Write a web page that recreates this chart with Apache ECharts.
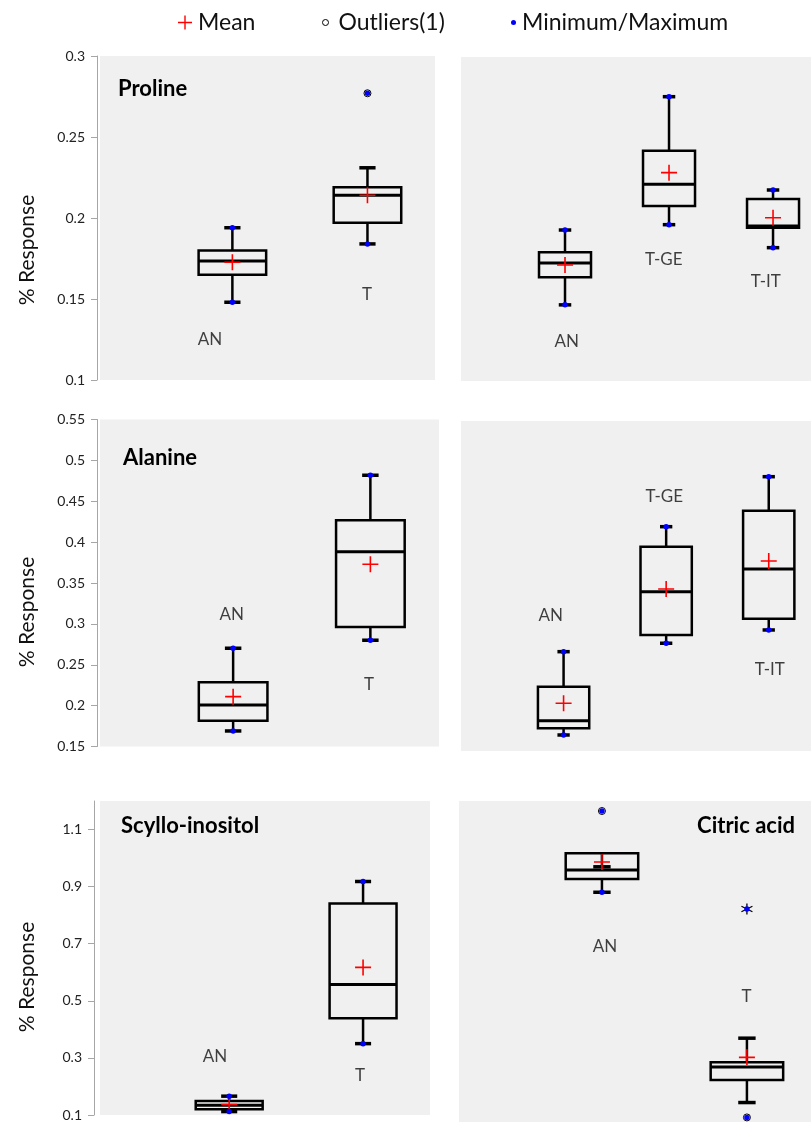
<!DOCTYPE html>
<html><head><meta charset="utf-8">
<script src="https://cdn.jsdelivr.net/npm/echarts@6/dist/echarts.min.js"></script>
<style>html,body{margin:0;padding:0;background:#fff}#c{width:811px;height:1122px}</style>
</head><body><div id="c"></div>
<script>
// ---------------- DATA ----------------
// Box statistics: lower whisker, Q1, median, Q3, upper whisker
const prolineGroups = ['AN', 'T'];
const prolineLow    = [0.148, 0.184];
const prolineQ1     = [0.165, 0.197];
const prolineMedian = [0.1735, 0.214];
const prolineQ3     = [0.180, 0.219];
const prolineHigh   = [0.194, 0.231];
const prolineMean   = [0.1727, 0.214];
const prolineMin    = [0.148, 0.184];
const prolineMax    = [0.194, 0.277];
const prolineOutliers = [[1, 0.277]];      // [group index, value]
const prolineExtremes = [];

const prolineSubGroups = ['AN', 'T-GE', 'T-IT'];
const prolineSubLow    = [0.147, 0.1965, 0.1823];
const prolineSubQ1     = [0.164, 0.208, 0.1946];
const prolineSubMedian = [0.1729, 0.2214, 0.1957];
const prolineSubQ3     = [0.1795, 0.2422, 0.2124];
const prolineSubHigh   = [0.1932, 0.2755, 0.2179];
const prolineSubMean   = [0.1716, 0.2286, 0.2008];
const prolineSubMin    = [0.147, 0.1965, 0.1823];
const prolineSubMax    = [0.1932, 0.2755, 0.2179];
const prolineSubOutliers = [];
const prolineSubExtremes = [];

const alanineGroups = ['AN', 'T'];
const alanineLow    = [0.169, 0.280];
const alanineQ1     = [0.1816, 0.2962];
const alanineMedian = [0.2008, 0.3883];
const alanineQ3     = [0.2286, 0.4267];
const alanineHigh   = [0.2702, 0.4818];
const alanineMean   = [0.211, 0.3729];
const alanineMin    = [0.169, 0.280];
const alanineMax    = [0.2702, 0.4818];
const alanineOutliers = [];
const alanineExtremes = [];

const alanineSubGroups = ['AN', 'T-GE', 'T-IT'];
const alanineSubLow    = [0.1694, 0.2806, 0.2967];
const alanineSubQ1     = [0.1775, 0.2906, 0.3104];
const alanineSubMedian = [0.1868, 0.3431, 0.3706];
const alanineSubQ3     = [0.228, 0.3977, 0.4413];
const alanineSubHigh   = [0.2704, 0.4219, 0.4825];
const alanineSubMean   = [0.2078, 0.3464, 0.3803];
const alanineSubMin    = [0.1694, 0.2806, 0.2967];
const alanineSubMax    = [0.2704, 0.4219, 0.4825];
const alanineSubOutliers = [];
const alanineSubExtremes = [];

const scylloGroups = ['AN', 'T'];
const scylloLow    = [0.112, 0.350];
const scylloQ1     = [0.120, 0.439];
const scylloMedian = [0.134, 0.557];
const scylloQ3     = [0.149, 0.841];
const scylloHigh   = [0.166, 0.918];
const scylloMean   = [0.137, 0.617];
const scylloMin    = [0.112, 0.350];
const scylloMax    = [0.166, 0.918];
const scylloOutliers = [];
const scylloExtremes = [];

const citricGroups = ['AN', 'T'];
const citricLow    = [0.881, 0.146];
const citricQ1     = [0.927, 0.225];
const citricMedian = [0.959, 0.270];
const citricQ3     = [1.017, 0.287];
const citricHigh   = [0.970, 0.371];
const citricMean   = [0.987, 0.304];
const citricMin    = [0.881, 0.094];
const citricMax    = [1.165, 0.8225];
const citricOutliers = [[0, 1.165], [1, 0.094]];
const citricExtremes = [[1, 0.8225]];

// tick labels
const yTicksProline = [0.1, 0.15, 0.2, 0.25, 0.3];
const yTicksAlanine = [0.15, 0.2, 0.25, 0.3, 0.35, 0.4, 0.45, 0.5, 0.55];
const yTicksScyllo  = [0.1, 0.3, 0.5, 0.7, 0.9, 1.1];

const panelTitles = ['Proline', '', 'Alanine', '', 'Scyllo-inositol', 'Citric acid'];
const yAxisTitle = '% Response';
const legendNames = ['Mean', 'Outliers(1)', 'Minimum/Maximum'];

// ---------------- ASSEMBLY ----------------
const panels = [
  {groups: prolineGroups, low: prolineLow, q1: prolineQ1, med: prolineMedian, q3: prolineQ3, high: prolineHigh, mean: prolineMean, min: prolineMin, max: prolineMax, out: prolineOutliers, ext: prolineExtremes, ticks: yTicksProline},
  {groups: prolineSubGroups, low: prolineSubLow, q1: prolineSubQ1, med: prolineSubMedian, q3: prolineSubQ3, high: prolineSubHigh, mean: prolineSubMean, min: prolineSubMin, max: prolineSubMax, out: prolineSubOutliers, ext: prolineSubExtremes, ticks: null},
  {groups: alanineGroups, low: alanineLow, q1: alanineQ1, med: alanineMedian, q3: alanineQ3, high: alanineHigh, mean: alanineMean, min: alanineMin, max: alanineMax, out: alanineOutliers, ext: alanineExtremes, ticks: yTicksAlanine},
  {groups: alanineSubGroups, low: alanineSubLow, q1: alanineSubQ1, med: alanineSubMedian, q3: alanineSubQ3, high: alanineSubHigh, mean: alanineSubMean, min: alanineSubMin, max: alanineSubMax, out: alanineSubOutliers, ext: alanineSubExtremes, ticks: null},
  {groups: scylloGroups, low: scylloLow, q1: scylloQ1, med: scylloMedian, q3: scylloQ3, high: scylloHigh, mean: scylloMean, min: scylloMin, max: scylloMax, out: scylloOutliers, ext: scylloExtremes, ticks: yTicksScyllo},
  {groups: citricGroups, low: citricLow, q1: citricQ1, med: citricMedian, q3: citricQ3, high: citricHigh, mean: citricMean, min: citricMin, max: citricMax, out: citricOutliers, ext: citricExtremes, ticks: null}
];

// layout (pixels / axis ranges / label anchors in data units)
const layout = [
  {left: 100, top: 56,    width: 335,   height: 324,   xMin: 0.02,  xMax: 2.5,   yMin: 0.1,   yMax: 0.3,  axisOffset: 3,
   labelAt: [[0.834, 0.125], [1.996, 0.1525]]},
  {left: 461, top: 57,    width: 350,   height: 324,   xMin: 0,     xMax: 3.365, yMin: 0.1,   yMax: 0.3,  axisOffset: 0,
   labelAt: [[1.016, 0.1243], [1.95, 0.1747], [2.93, 0.1614]]},
  {left: 100, top: 419.5, width: 339,   height: 327,   xMin: 0.03,  xMax: 2.5,   yMin: 0.15,  yMax: 0.55, axisOffset: 3,
   labelAt: [[0.99, 0.311], [1.99, 0.2253]]},
  {left: 461, top: 421,   width: 350,   height: 330,   xMin: 0,     xMax: 3.412, yMin: 0.15,  yMax: 0.55, axisOffset: 0,
   labelAt: [[0.875, 0.3137], [1.982, 0.459], [3.01, 0.2482]]},
  {left: 100, top: 801,   width: 330,   height: 314.7, xMin: 0.035, xMax: 2.5,   yMin: 0.1,   yMax: 1.2,  axisOffset: 6,
   labelAt: [[0.894, 0.306], [1.977, 0.239]]},
  {left: 459, top: 801,   width: 352,   height: 321,   xMin: 0.014, xMax: 2.442, yMin: 0.078, yMax: 1.2,  axisOffset: 0,
   labelAt: [[1.021, 0.691], [1.998, 0.518]]}
];
const titlePos = [{left: 118, top: 78}, null, {left: 123, top: 447}, null, {left: 121, top: 815}, {right: 16, top: 815}];
const yTitlePos = [[27, 250], [27, 612], [27, 977]];

const FONT = 'Lato, "Open Sans", sans-serif';
const PLUS = 'path://M9,0H11V9H20V11H11V20H9V11H0V9H9Z';
const STAR = 'path://M0,-6L0,6M-5.2,-3L5.2,3M-5.2,3L5.2,-3';

function renderBox(params, api) {
  const x = api.value(0);
  const c = v => api.coord([x, v]);
  const lo = c(api.value(1)), q1 = c(api.value(2)), md = c(api.value(3)), q3 = c(api.value(4)), hi = c(api.value(5));
  const bw = api.size([0.5, 0])[0], cw = api.size([0.12, 0])[0];
  const cx = lo[0];
  const ln = (x1, y1, x2, y2, w) => ({type: 'line', shape: {x1, y1, x2, y2}, style: {stroke: '#000', lineWidth: w}});
  return {type: 'group', children: [
    ln(cx, q1[1], cx, lo[1], 2.5),
    ln(cx, q3[1], cx, hi[1], 2.5),
    ln(cx - cw / 2, lo[1], cx + cw / 2, lo[1], 3.5),
    ln(cx - cw / 2, hi[1], cx + cw / 2, hi[1], 3.5),
    {type: 'rect', shape: {x: cx - bw / 2, y: q3[1], width: bw, height: q1[1] - q3[1]}, style: {fill: 'transparent', stroke: '#000', lineWidth: 2.5}},
    ln(cx - bw / 2, md[1], cx + bw / 2, md[1], 3)
  ]};
}

const legendText = {fontSize: 23, fontFamily: FONT, color: '#111'};
const option = {
  animation: false,
  backgroundColor: '#fff',
  grid: [], xAxis: [], yAxis: [], series: [], title: [],
  legend: [
    {data: [{name: legendNames[0], icon: PLUS, itemStyle: {color: '#ff0000'}}], left: 178, top: 11, padding: 0, itemWidth: 14, itemHeight: 14,
     selectedMode: false, textStyle: Object.assign({padding: [0, 0, 0, 1]}, legendText)},
    {data: [{name: legendNames[1], icon: 'circle', itemStyle: {color: '#fff', borderColor: '#000', borderWidth: 1}}], left: 322, top: 11, padding: 0, itemWidth: 6, itemHeight: 6,
     selectedMode: false, textStyle: Object.assign({padding: [0, 0, 0, 5]}, legendText)},
    {data: [{name: legendNames[2], icon: 'circle', itemStyle: {color: '#0000ff'}}], left: 511, top: 11, padding: 0, itemWidth: 5, itemHeight: 5,
     selectedMode: false, textStyle: Object.assign({padding: [0, 0, 0, 1]}, legendText)}
  ],
  graphic: yTitlePos.map(([x, y]) => ({
    type: 'text', x, y, rotation: Math.PI / 2,
    style: {text: yAxisTitle, fontSize: 21, fontFamily: FONT, fill: '#111', align: 'center', verticalAlign: 'middle'}
  }))
};

panels.forEach((p, i) => {
  const L = layout[i];
  option.grid.push({left: L.left, top: L.top, width: L.width, height: L.height, show: true, backgroundColor: '#f0f0f0', borderWidth: 0});
  option.xAxis.push({type: 'value', gridIndex: i, min: L.xMin, max: L.xMax, show: false});
  option.yAxis.push({
    type: 'value', gridIndex: i, min: L.yMin, max: L.yMax, show: p.ticks != null, offset: L.axisOffset,
    axisLine: {show: true, lineStyle: {color: '#a6a6a6', width: 1}},
    axisTick: {show: true, length: 6, customValues: p.ticks || [], lineStyle: {color: '#a6a6a6'}},
    axisLabel: {show: true, customValues: p.ticks || [], color: '#222', fontSize: 14, fontFamily: FONT, margin: 12},
    splitLine: {show: false}
  });
  if (panelTitles[i]) {
    option.title.push(Object.assign({text: panelTitles[i], padding: 0,
      textStyle: {fontSize: 22, fontWeight: 'bold', fontFamily: FONT, color: '#000'}}, titlePos[i]));
  }
  option.series.push({
    type: 'custom', name: 'Box', xAxisIndex: i, yAxisIndex: i, renderItem: renderBox, silent: true, z: 2,
    encode: {x: 0, y: [1, 2, 3, 4, 5]},
    data: p.groups.map((g, k) => [k + 1, p.low[k], p.q1[k], p.med[k], p.q3[k], p.high[k]])
  });
  option.series.push({
    type: 'scatter', name: legendNames[1], xAxisIndex: i, yAxisIndex: i, symbol: 'circle', symbolSize: 7, z: 4, silent: true,
    itemStyle: {color: '#fff', borderColor: '#000', borderWidth: 1, opacity: 1},
    data: p.out.map(o => [o[0] + 1, o[1]])
  });
  option.series.push({
    type: 'scatter', name: 'Outliers(2)', xAxisIndex: i, yAxisIndex: i, symbol: STAR, symbolSize: 11, z: 4, silent: true,
    itemStyle: {color: 'transparent', borderColor: '#000', borderWidth: 1.3, opacity: 1},
    data: p.ext.map(o => [o[0] + 1, o[1]])
  });
  option.series.push({
    type: 'scatter', name: legendNames[0], xAxisIndex: i, yAxisIndex: i, symbol: PLUS, symbolSize: 16, z: 5, silent: true,
    itemStyle: {color: '#ff0000', opacity: 1},
    data: p.mean.map((v, k) => [k + 1, v])
  });
  option.series.push({
    type: 'scatter', name: legendNames[2], xAxisIndex: i, yAxisIndex: i, symbol: 'circle', symbolSize: 5.5, z: 6, silent: true,
    itemStyle: {color: '#0000ff', opacity: 1},
    data: p.min.map((v, k) => [k + 1, v]).concat(p.max.map((v, k) => [k + 1, v]))
  });
  option.series.push({
    type: 'scatter', name: 'labels', xAxisIndex: i, yAxisIndex: i, symbolSize: 1, z: 3, silent: true,
    itemStyle: {color: 'transparent'},
    label: {show: true, position: 'inside', formatter: '{b}', fontSize: 17, fontFamily: FONT, color: '#111'},
    data: p.groups.map((g, k) => ({name: g, value: L.labelAt[k]}))
  });
});

const chart = echarts.init(document.getElementById('c'), null, {renderer: 'canvas'});
chart.setOption(option);
</script>
</body></html>
